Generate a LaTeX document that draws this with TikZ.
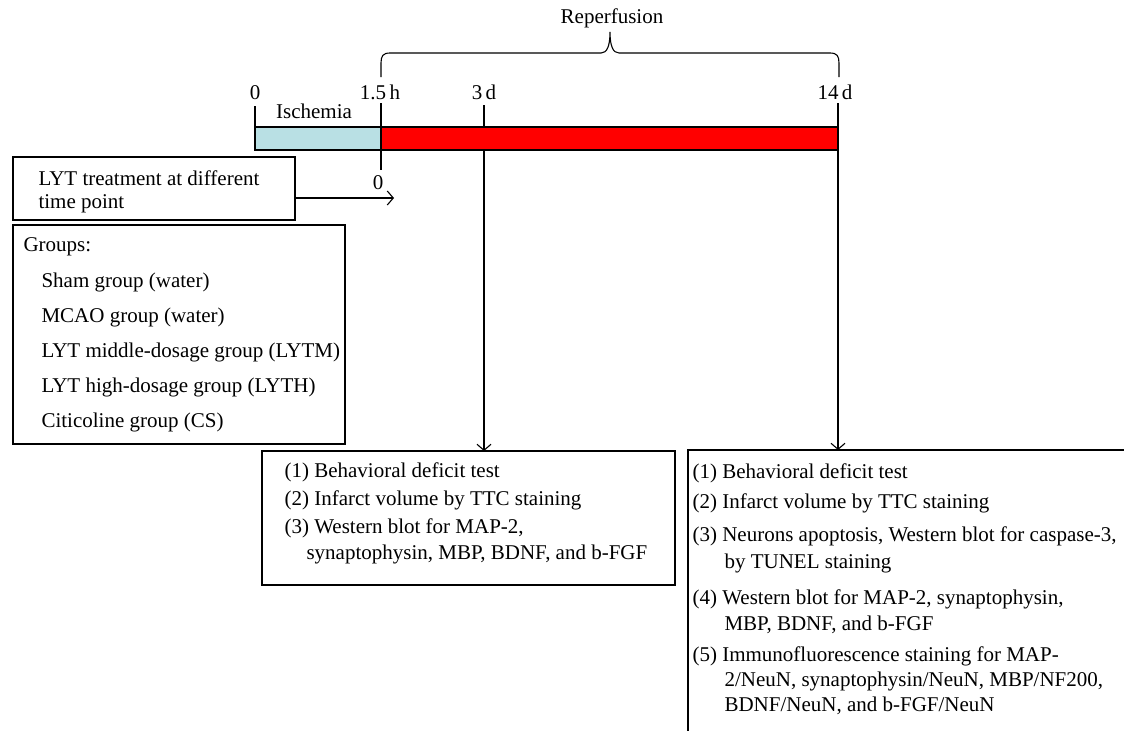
\documentclass[tikz,border=0pt]{standalone}
\usepackage{fontspec}
\setmainfont{Liberation Serif}
\usetikzlibrary{arrows.meta}
\definecolor{ischblue}{RGB}{185,224,228}
\begin{document}
\begin{tikzpicture}[x=1pt,y=-1pt,line width=1.1pt,
  txt/.style={anchor=base west,inner sep=0pt,font=\fontsize{21}{24}\selectfont},
  ctxt/.style={anchor=base,inner sep=0pt,font=\fontsize{21}{24}\selectfont},
  box/.style={draw,line width=1.1pt,anchor=north west,inner sep=0pt,outer sep=0pt},
  arr/.style={-{Straight Barb[length=6pt,width=14pt,line width=1.1pt]}}]
\useasboundingbox (0,0) rectangle (1124,731);

% timeline bar
\node[box,fill=ischblue,minimum width=126pt,minimum height=23pt] (isch) at (255,127) {};
\node[box,fill=red,minimum width=457pt,minimum height=23pt] (rep) at (381,127) {};
\coordinate (t3) at (484,127);

% ticks
\draw (isch.north west) -- ++(0,-21);
\draw (isch.north east) -- ++(0,-24);
\draw (t3) -- ++(0,-22);
\draw (rep.north east) -- ++(0,-24);
\draw (isch.south east) -- ++(0,20);

% time labels
\node[ctxt] (l0) at (255,99) {0};
\node[ctxt] (l15) at (380,99) {1.5\,h};
\node[ctxt] (l3) at (484,99) {3\,d};
\node[ctxt] (l14) at (835,99) {14\,d};
\node[ctxt] (lisch) at (314,118) {Ischemia};
\node[ctxt] (lrep) at (612,23) {Reperfusion};
\node[ctxt] (lzero) at (378,189) {0};

% brace
\draw[line width=1.1pt] (381,77) -- (381,63) .. controls (381,56) and (383,53) .. (390,53)
  -- (601,53) .. controls (607,53) and (610,46) .. (610,32)
  .. controls (610,46) and (613,53) .. (619,53)
  -- (830,53) .. controls (837,53) and (839,56) .. (839,63) -- (839,77);

% LYT box
\node[box,minimum width=282pt,minimum height=63pt] (lyt) at (13,157) {};
\node[txt] (lyt1) at (38,185) {LYT treatment at different};
\node[txt] (lyt2) at (38,208) {time point};
\coordinate (lytend) at (394,198);
\draw[arr] (lyt.east |- lytend) -- (lytend);

% Groups box
\node[box,minimum width=332pt,minimum height=219pt] (grp) at (13,225) {};
\node[txt] (g0) at (23,251) {Groups:};
\node[txt] (g1) at (41,287) {Sham group (water)};
\node[txt] (g2) at (41,322) {MCAO group (water)};
\node[txt] (g3) at (41,357) {LYT middle-dosage group (LYTM)};
\node[txt] (g4) at (41,392) {LYT high-dosage group (LYTH)};
\node[txt] (g5) at (41,427) {Citicoline group (CS)};

% middle box (3 d)
\node[box,minimum width=413pt,minimum height=134pt] (mid) at (262,451) {};
\node[txt] (m1) at (284,477) {(1) Behavioral deficit test};
\node[txt] (m2) at (284,505) {(2) Infarct volume by TTC staining};
\node[txt] (m3) at (284,533) {(3) Western blot for MAP-2,};
\node[txt] (m3b) at (306,559) {synaptophysin, MBP, BDNF, and b-FGF};
\draw[arr] (rep.south -| t3) -- (mid.north -| t3);

% right box (14 d), open to the right and bottom
\coordinate (rtl) at (688,450);
\coordinate (rtr) at (1124,450);
\coordinate (rbl) at (688,731);
\draw (rtr) -- (rtl) -- (rbl);
\node[txt] (r1) at (692,478) {(1) Behavioral deficit test};
\node[txt] (r2) at (692,508) {(2) Infarct volume by TTC staining};
\node[txt] (r3) at (692,541) {(3) Neurons apoptosis, Western blot for caspase-3,};
\node[txt] (r3b) at (724,568) {by TUNEL staining};
\node[txt] (r4) at (692,604) {(4) Western blot for MAP-2, synaptophysin,};
\node[txt] (r4b) at (724,630) {MBP, BDNF, and b-FGF};
\node[txt] (r5) at (692,661) {(5) Immunofluorescence staining for MAP-};
\node[txt] (r5b) at (724,686) {2/NeuN, synaptophysin/NeuN, MBP/NF200,};
\node[txt] (r5c) at (724,711) {BDNF/NeuN, and b-FGF/NeuN};
\draw[arr] (rep.south east) -- (rep.south east |- rtl);
\end{tikzpicture}
\end{document}
